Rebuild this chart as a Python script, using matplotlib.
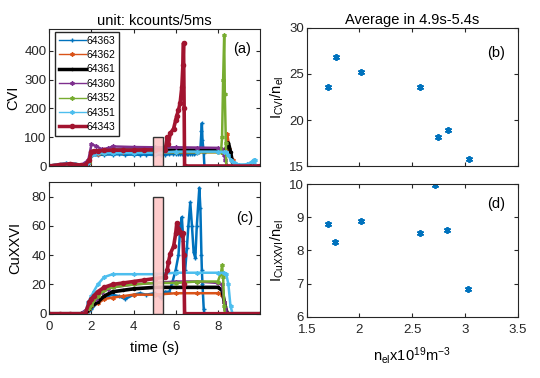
import numpy as np
import matplotlib
matplotlib.use('Agg')
import matplotlib.pyplot as plt
from matplotlib.patches import Rectangle
from matplotlib.lines import Line2D

plt.rcParams['font.family'] = ['Liberation Sans', 'DejaVu Sans']
plt.rcParams['mathtext.fontset'] = 'custom'
plt.rcParams['mathtext.rm'] = 'Liberation Sans'
plt.rcParams['mathtext.it'] = 'Liberation Sans:italic'
plt.rcParams['axes.edgecolor'] = '#262626'
plt.rcParams['xtick.color'] = '#262626'
plt.rcParams['ytick.color'] = '#262626'

ast = (6, 2, 0)  # matlab-like asterisk

# shot numbers, colours and markers (legend order)
shots = ['64363', '64362', '64361', '64360', '64352', '64351', '64343']
colors = ['#0072BD', '#D95319', '#000000', '#7E2F8E', '#77AC30', '#4DBEEE', '#A2142F']
markers = ['+', ast, '.', ast, ast, ast, 'o']
leg_lw = [1, 1, 2.5, 1, 1, 1, 2.5]

# 64363
t_64363 = [0, 0.5, 1.0, 1.5, 1.8, 1.9, 2.0, 2.3, 2.6, 3.0, 3.3, 3.6, 4.0, 4.3, 4.6, 5.0, 5.3, 5.5, 5.7,
           5.85, 6.0, 6.13, 6.22, 6.29, 6.36, 6.45, 6.53, 6.6, 6.69, 6.77, 6.85, 6.93, 7.0, 7.12, 7.17,
           7.22, 7.24, 7.27, 7.33, 7.36, 10.0]
cvi_64363 = [0, 3, 5, 3, 5, 25, 35, 38, 40, 40, 41, 39, 40, 39, 40, 38, 40, 40, 41,
             42, 42, 42, 42, 42, 43, 42, 42, 43, 43, 42, 42, 44, 45, 48, 60,
             120, 148, 90, 45, 0, 0]
cux_64363 = [0, 0, 0, 0, 1, 2, 3, 8, 11, 13, 12, 10, 13, 14, 13, 14, 11, 15, 15,
             22, 30, 40, 60, 66, 50, 30, 45, 60, 76, 60, 42, 38, 60, 86, 72,
             40, 30, 20, 3, 0, 0]

# 64362
t_64362 = [0, 0.5, 1.0, 1.5, 1.8, 1.9, 2.0, 2.3, 2.6, 3.0, 3.5, 4.0, 5.0, 6.0, 7.0, 8.0, 8.2, 8.3,
           8.4, 8.45, 8.55, 8.7, 8.8, 10.0]
cvi_64362 = [0, 4, 6, 3, 5, 10, 40, 43, 45, 48, 48, 47, 48, 48, 48, 48, 49, 50,
             60, 110, 60, 20, 0, 0]
cux_64362 = [0, 0, 0, 0, 2, 3, 5, 7, 10, 11, 12, 13, 13, 14, 14, 14, 13, 8,
             0, 0, 0, 0, 0, 0]

# 64361
t_64361 = [0, 0.5, 1.0, 1.5, 1.8, 1.9, 2.0, 2.3, 2.6, 3.0, 3.5, 4.0, 5.0, 6.0, 7.0, 8.0, 8.2, 8.35,
           8.45, 8.5, 8.6, 8.7, 8.9, 10.0]
cvi_64361 = [0, 4, 6, 3, 5, 10, 50, 52, 52, 55, 55, 55, 55, 55, 55, 55, 55, 56,
             70, 80, 50, 10, 0, 0]
cux_64361 = [0, 0, 0, 0, 2, 3, 5, 8, 12, 15, 16, 17, 18, 18, 18, 18, 16, 5,
             0, 0, 0, 0, 0, 0]

# 64360
t_64360 = [0, 0.5, 1.0, 1.5, 1.85, 2.0, 2.2, 2.5, 2.8, 3.0, 4.0, 5.0, 6.0, 7.0, 8.0, 8.2, 8.3,
           8.35, 8.45, 10.0]
cvi_64360 = [0, 3, 5, 3, 20, 75, 70, 58, 62, 68, 66, 65, 65, 64, 63, 60, 40,
             20, 0, 0]
cux_64360 = [0, 0, 0, 0, 4, 6, 10, 15, 17, 18, 20, 21, 22, 22, 21, 20, 8,
             3, 0, 0]

# 64352
t_64352 = [0, 0.3, 0.8, 1.2, 1.6, 1.9, 2.0, 2.3, 2.6, 3.0, 4.0, 5.0, 6.0, 7.0, 8.0, 8.15, 8.2,
           8.25, 8.3, 8.33, 8.38, 8.4, 10.0]
cvi_64352 = [0, 3, 8, 6, 3, 15, 42, 44, 45, 48, 48, 48, 48, 48, 48, 50, 100,
             300, 455, 250, 80, 0, 0]
cux_64352 = [0, 0, 0, 0, 0, 4, 6, 12, 16, 18, 20, 21, 21, 22, 22, 28, 33,
             25, 5, 0, 0, 0, 0]

# 64351
t_64351 = [0, 0.3, 0.8, 1.2, 1.6, 1.7, 1.85, 2.0, 2.1, 2.3, 2.6, 3.0, 4.0, 5.0, 6.0, 7.0, 8.0,
           8.3, 8.4, 8.5, 8.6, 8.7, 8.8, 9.0, 9.4, 9.6, 9.7, 9.75, 9.8, 10.0]
cvi_64351 = [0, 5, 10, 8, 4, 3, 10, 40, 42, 44, 45, 45, 45, 46, 50, 50, 50,
             49, 48, 40, 20, 14, 10, 5, 6, 15, 22, 20, 0, 0]
cux_64351 = [0, 0, 0, 0, 0, 0, 8, 12, 15, 20, 25, 27, 27, 27, 28, 28, 28,
             28, 27, 20, 5, 0, 0, 0, 0, 0, 0, 0, 0, 0]

# 64343
t_64343 = [0, 0.5, 1.0, 1.5, 1.7, 1.9, 2.0, 2.1, 2.3, 2.6, 3.0, 3.5, 4.0, 4.5, 5.0, 5.5, 5.6,
           5.65, 5.74, 5.9, 6.0, 6.05, 6.13, 6.21, 6.29, 6.34, 6.37, 6.4, 6.42, 10.0]
cvi_64343 = [0, 5, 8, 3, 4, 20, 50, 52, 52, 54, 55, 55, 55, 56, 56, 57, 100,
             75, 113, 130, 160, 175, 194, 220, 275, 350, 427, 200, 0, 0]
cux_64343 = [0, 0, 0, 0, 0, 8, 10, 12, 15, 18, 20, 21, 22, 23, 24, 25, 30,
             35, 41, 46, 55, 62, 58, 56, 54, 55, 40, 20, 0, 0]

t_list = [t_64363, t_64362, t_64361, t_64360, t_64352, t_64351, t_64343]
cvi_list = [cvi_64363, cvi_64362, cvi_64361, cvi_64360, cvi_64352, cvi_64351, cvi_64343]
cux_list = [cux_64363, cux_64362, cux_64361, cux_64360, cux_64352, cux_64351, cux_64343]

# averages in 4.9s-5.4s
ne_cvi = [1.705, 1.775, 2.015, 2.578, 2.74, 2.835, 3.04]
cvi_ne = [23.56, 26.87, 25.2, 23.63, 18.17, 18.9, 15.73]
ne_cux = [1.70, 1.77, 2.01, 2.57, 2.72, 2.83, 3.03]
cux_ne = [8.79, 8.26, 8.88, 8.52, 9.98, 8.6, 6.83]

win_t = [4.9, 5.4]

fig = plt.figure(figsize=(5.4, 3.78), dpi=100)
ax_a = fig.add_axes([0.0913, 0.5608, 0.3902, 0.3625])
ax_c = fig.add_axes([0.0913, 0.1701, 0.3902, 0.3484])
ax_b = fig.add_axes([0.568, 0.5608, 0.3907, 0.3652])
ax_d = fig.add_axes([0.568, 0.1622, 0.3907, 0.351])

for i in range(len(shots)):
    lw = 2.6 if leg_lw[i] > 1 else 1.8
    ax_a.plot(t_list[i], cvi_list[i], color=colors[i], marker=markers[i], ms=3, lw=lw)
    ax_c.plot(t_list[i], cux_list[i], color=colors[i], marker=markers[i], ms=3, lw=lw)

ax_a.add_patch(Rectangle((win_t[0], 0), win_t[1]-win_t[0], 100, facecolor=(1, 0.78, 0.78, 0.9),
                         edgecolor='#333333', lw=1, zorder=5))
ax_c.add_patch(Rectangle((win_t[0], 0), win_t[1]-win_t[0], 80, facecolor=(1, 0.78, 0.78, 0.9),
                         edgecolor='#333333', lw=1, zorder=5))

handles = [Line2D([], [], color=colors[i], lw=leg_lw[i], marker=markers[i], ms=3) for i in range(len(shots))]
leg = ax_a.legend(handles, shots, loc='upper left', bbox_to_anchor=(0.027, 0.978), borderaxespad=0,
                  fontsize=7.5, handlelength=2.6, handletextpad=0.1, labelspacing=0.42,
                  fancybox=False, framealpha=1, borderpad=0.35)
leg.get_frame().set_edgecolor('#262626')
leg.get_frame().set_linewidth(1)

ax_b.plot(ne_cvi, cvi_ne, marker=ast, color='#0072BD', ms=5, mew=1.3, ls='none')
ax_d.plot(ne_cux, cux_ne, marker=ast, color='#0072BD', ms=5, mew=1.3, ls='none')

ax_a.set_xlim(0, 10)
ax_a.set_ylim(0, 476)
ax_a.set_yticks([0, 100, 200, 300, 400])
ax_a.set_xticks([0, 2, 4, 6, 8])
ax_a.set_xticklabels([])
ax_a.set_ylabel('CVI', fontsize=10.5)
ax_a.yaxis.set_label_coords(-0.137, 0.5)
ax_a.set_title('unit: kcounts/5ms', fontsize=10.5, pad=3)

ax_c.set_xlim(0, 10)
ax_c.set_ylim(0, 90)
ax_c.set_yticks([0, 20, 40, 60, 80])
ax_c.set_xticks([0, 2, 4, 6, 8])
ax_c.set_ylabel('CuXXVI', fontsize=10.5)
ax_c.yaxis.set_label_coords(-0.13, 0.5)
ax_c.set_xlabel('time (s)', fontsize=10.5, labelpad=6)

ax_b.set_xlim(1.5, 3.5)
ax_b.set_ylim(15, 30)
ax_b.set_yticks([15, 20, 25, 30])
ax_b.set_xticks([1.5, 2, 2.5, 3, 3.5])
ax_b.set_xticklabels([])
ax_b.set_ylabel(r'I$_{\rm CVI}$/n$_{\rm el}$', fontsize=10.5)
ax_b.yaxis.set_label_coords(-0.1, 0.5)
ax_b.set_title('Average in 4.9s-5.4s', fontsize=10.5, pad=3)

ax_d.set_xlim(1.5, 3.5)
ax_d.set_ylim(6, 10)
ax_d.set_yticks([6, 7, 8, 9, 10])
ax_d.set_xticks([1.5, 2, 2.5, 3, 3.5])
ax_d.set_xticklabels(['1.5', '2', '2.5', '3', '3.5'])
ax_d.set_ylabel(r'I$_{\rm CuXXVI}$/n$_{\rm el}$', fontsize=10.5)
ax_d.yaxis.set_label_coords(-0.1, 0.5)
ax_d.set_xlabel(r'n$_{\rm el}$x10$^{19}$m$^{-3}$', fontsize=10.5, labelpad=7)

for ax in [ax_a, ax_b, ax_c, ax_d]:
    ax.tick_params(direction='in', length=3, width=0.8, labelsize=9.5, top=True, right=True)
    ax.tick_params(axis='y', pad=2)
    ax.tick_params(axis='x', pad=5)
    for s in ax.spines.values():
        s.set_linewidth(0.8)

ax_a.text(0.915, 0.854, '(a)', transform=ax_a.transAxes, ha='center', va='center', fontsize=10.5)
ax_b.text(0.897, 0.819, '(b)', transform=ax_b.transAxes, ha='center', va='center', fontsize=10.5)
ax_c.text(0.929, 0.727, '(c)', transform=ax_c.transAxes, ha='center', va='center', fontsize=10.5)
ax_d.text(0.897, 0.849, '(d)', transform=ax_d.transAxes, ha='center', va='center', fontsize=10.5)

fig.savefig('out.png', dpi=100)
